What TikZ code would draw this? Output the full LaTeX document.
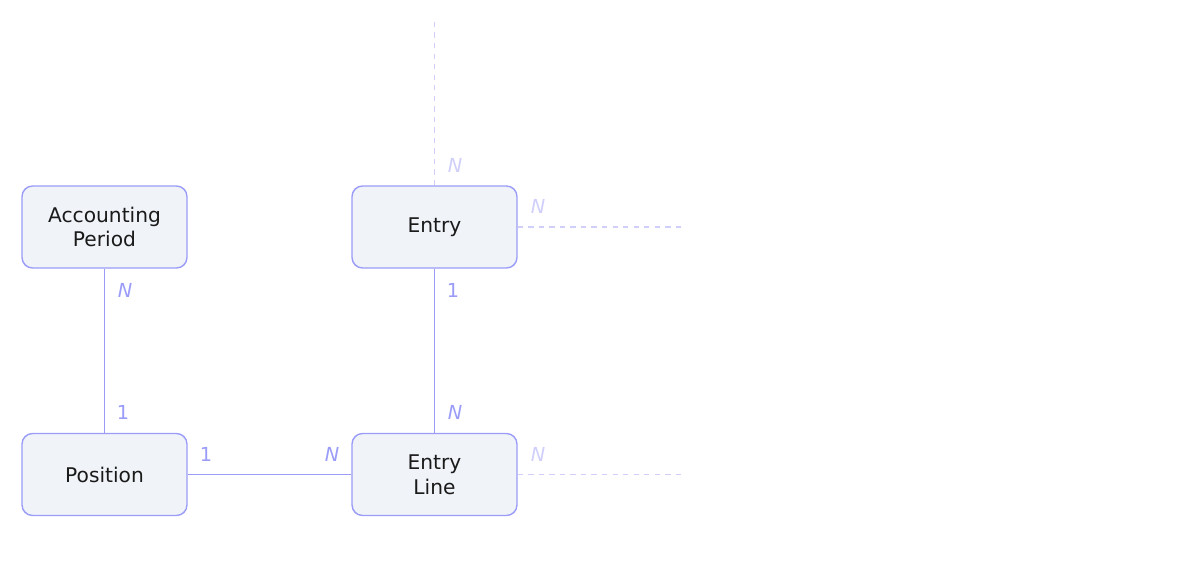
\documentclass[tikz,border=0pt]{standalone}
\usepackage{fontspec}
\setmainfont{DejaVu Sans}
\usetikzlibrary{positioning}
\definecolor{edge}{HTML}{9A9CF8}
\definecolor{boxfill}{HTML}{F0F3F8}
\definecolor{faint}{HTML}{CFCFFA}
\definecolor{ink}{HTML}{1A1A1A}
\begin{document}
\begin{tikzpicture}[
    x = 0.02cm, y = -0.02cm,
    %
    entity/.style = {draw = edge, thick, fill = boxfill,
      rounded corners = 6pt, text = ink, align = center,
      font = \fontsize{11.5}{14}\selectfont,
      minimum width = 3.3cm, minimum height = 1.64cm},
    %
    link/.style = {edge, thick},
    stub/.style = {faint, thick, dashed},
    card/.style = {text = edge, font = \fontsize{11}{13}\selectfont},
    cardfaint/.style = {text = faint, font = \fontsize{11}{13}\selectfont},
    ]

    \useasboundingbox (0, 0) rectangle (1200, 580);

    \node at (104.5, 227) [entity, name = period] {Accounting\\Period};
    \node at (434.5, 227) [entity, name = entry] {Entry};
    \node at (104.5, 474.5) [entity, name = position] {Position};
    \node at (434.5, 474.5) [entity, name = line] {Entry\\Line};

    \coordinate (up) at (434.5, 20);
    \coordinate (entryend) at (682, 227);
    \coordinate (lineend) at (682, 474.5);

    \draw [link] (period) -- (position);
    \draw [link] (entry) -- (line);
    \draw [link] (position) -- (line);

    \draw [stub] (entry) -- (up);
    \draw [stub] (entry) -- (entryend);
    \draw [stub] (line) -- (lineend);

    \node at (125, 290) [card] {\itshape N};
    \node at (123, 412) [card] {1};
    \node at (453, 290) [card] {1};
    \node at (455, 412) [card] {\itshape N};
    \node at (206, 454) [card] {1};
    \node at (332, 454) [card] {\itshape N};

    \node at (455, 165) [cardfaint] {\itshape N};
    \node at (538, 206) [cardfaint] {\itshape N};
    \node at (538, 454) [cardfaint] {\itshape N};

  \end{tikzpicture}
\end{document}
